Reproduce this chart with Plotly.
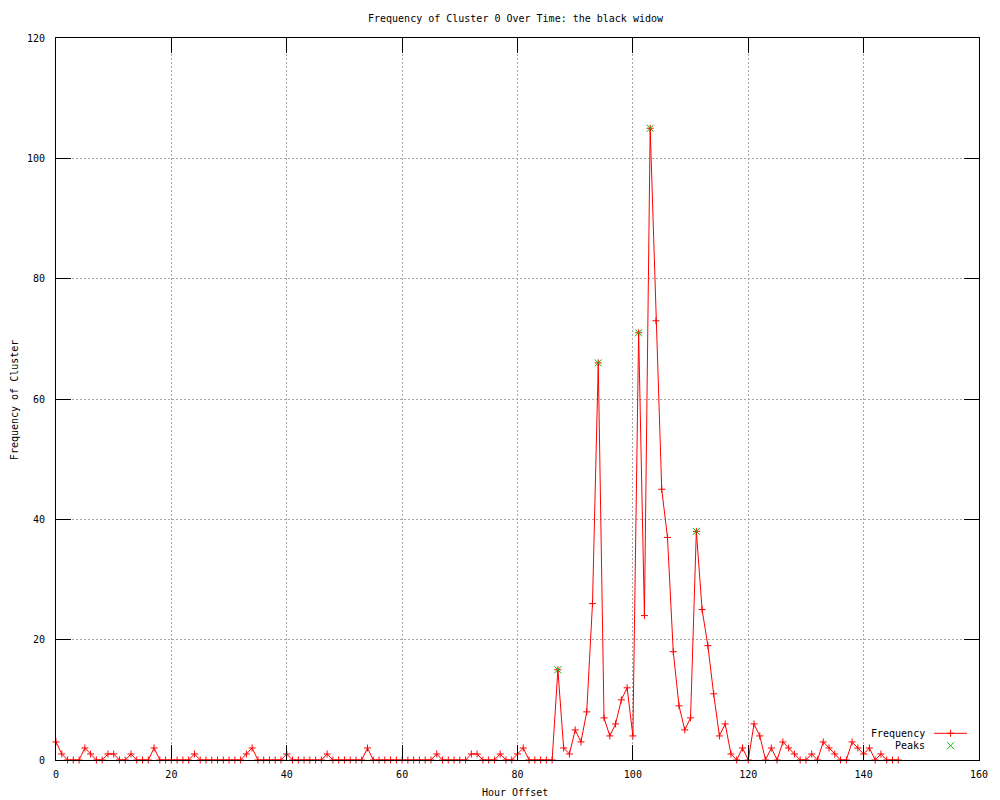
import plotly.graph_objects as go

# ---- data ----
hours = list(range(0, 147))
frequency = [
    3, 1, 0, 0, 0, 2, 1, 0, 0, 1,
    1, 0, 0, 1, 0, 0, 0, 2, 0, 0,
    0, 0, 0, 0, 1, 0, 0, 0, 0, 0,
    0, 0, 0, 1, 2, 0, 0, 0, 0, 0,
    1, 0, 0, 0, 0, 0, 0, 1, 0, 0,
    0, 0, 0, 0, 2, 0, 0, 0, 0, 0,
    0, 0, 0, 0, 0, 0, 1, 0, 0, 0,
    0, 0, 1, 1, 0, 0, 0, 1, 0, 0,
    1, 2, 0, 0, 0, 0, 0, 15, 2, 1,
    5, 3, 8, 26, 66, 7, 4, 6, 10, 12,
    4, 71, 24, 105, 73, 45, 37, 18, 9, 5,
    7, 38, 25, 19, 11, 4, 6, 1, 0, 2,
    0, 6, 4, 0, 2, 0, 3, 2, 1, 0,
    0, 1, 0, 3, 2, 1, 0, 0, 3, 2,
    1, 2, 0, 1, 0, 0, 0,
]
peak_hours = [87, 94, 101, 103, 111]
peak_values = [15, 66, 71, 105, 38]

title_text = "Frequency of Cluster 0 Over Time: the black widow"
x_title = "Hour Offset"
y_title = "Frequency of Cluster"
legend_names = ["Frequency", "Peaks"]

RED = "#ff0000"
GREEN = "#00c000"
FONT = dict(family="DejaVu Sans Mono", size=10, color="black")

fig = go.Figure()

fig.add_trace(go.Scatter(
    x=hours, y=frequency, mode="lines+markers", name=legend_names[0],
    line=dict(color=RED, width=1),
    marker=dict(symbol="cross-thin-open", size=5, color=RED, line=dict(color=RED, width=1)),
    cliponaxis=False, showlegend=False,
))
fig.add_trace(go.Scatter(
    x=peak_hours, y=peak_values, mode="markers", name=legend_names[1],
    marker=dict(symbol="x-thin-open", size=7, color=GREEN, line=dict(color=GREEN, width=1)),
    cliponaxis=False, showlegend=False,
))

# ---- custom gnuplot-style legend (text left, sample right) on an overlay axis ----
L, R, T, B = 56, 18, 38, 40
W, H = 1000, 800
pw, ph = W - L - R, H - T - B
def px(xp):
    return (xp - L) / pw
def py(yp):
    return (H - B - yp) / ph

leg_y = [py(733.3), py(745.7)]
sx0, sx1, smid = px(937), px(970), px(953.5)
fig.add_trace(go.Scatter(
    x=[sx0, sx1], y=[leg_y[0], leg_y[0]], mode="lines", xaxis="x2", yaxis="y2",
    line=dict(color=RED, width=1), showlegend=False, hoverinfo="skip", cliponaxis=False,
))
fig.add_trace(go.Scatter(
    x=[smid], y=[leg_y[0]], mode="markers", xaxis="x2", yaxis="y2",
    marker=dict(symbol="cross-thin-open", size=5, color=RED, line=dict(color=RED, width=1)),
    showlegend=False, hoverinfo="skip", cliponaxis=False,
))
fig.add_trace(go.Scatter(
    x=[smid], y=[leg_y[1]], mode="markers", xaxis="x2", yaxis="y2",
    marker=dict(symbol="x-thin-open", size=7, color=GREEN, line=dict(color=GREEN, width=1)),
    showlegend=False, hoverinfo="skip", cliponaxis=False,
))

annotations = [
    dict(text=title_text, xref="paper", yref="paper", x=px(517), y=py(18),
         xanchor="center", yanchor="middle", showarrow=False, font=FONT),
    dict(text=x_title, xref="paper", yref="paper", x=px(516), y=py(793),
         xanchor="center", yanchor="middle", showarrow=False, font=FONT),
    dict(text=y_title, xref="paper", yref="paper", x=px(14), y=py(400),
         xanchor="center", yanchor="middle", showarrow=False, font=FONT, textangle=-90),
    dict(text=legend_names[0], xref="paper", yref="paper", x=px(930), y=leg_y[0],
         xanchor="right", yanchor="middle", showarrow=False, font=FONT),
    dict(text=legend_names[1], xref="paper", yref="paper", x=px(930), y=leg_y[1],
         xanchor="right", yanchor="middle", showarrow=False, font=FONT),
]

axis_common = dict(
    showline=True, linecolor="black", linewidth=1, mirror="ticks",
    ticks="inside", ticklen=15, tickwidth=1, tickcolor="black",
    showgrid=True, gridcolor="#a8a8a8", gridwidth=1, griddash="2px,2px",
    zeroline=False, tickfont=FONT,
)

fig.update_layout(
    width=W, height=H,
    margin=dict(l=L, r=R, t=T, b=B, pad=0),
    paper_bgcolor="white", plot_bgcolor="white",
    showlegend=False, hovermode=False,
    xaxis=dict(range=[0, 160], dtick=20, tick0=0, ticklabelstandoff=5, **axis_common),
    yaxis=dict(range=[0, 120], dtick=20, tick0=0, ticklabelstandoff=8, **axis_common),
    xaxis2=dict(range=[0, 1], overlaying="x", visible=False, fixedrange=True),
    yaxis2=dict(range=[0, 1], overlaying="y", visible=False, fixedrange=True),
    annotations=annotations,
    font=FONT,
)

fig.write_html(
    "out.html",
    config={"displayModeBar": False, "staticPlot": True},
    post_script="document.body.style.margin='0';document.body.style.padding='0';",
)
